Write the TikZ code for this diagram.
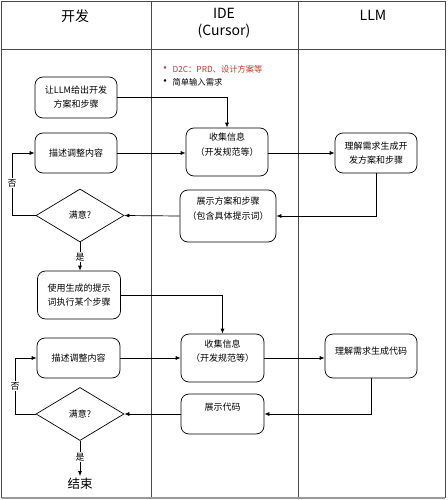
\documentclass[tikz,border=0pt]{standalone}
\usepackage{fontspec}
\setmainfont{Noto Sans CJK SC}
\usetikzlibrary{shapes.geometric,arrows.meta}
\definecolor{gridc}{HTML}{4A4A4A}
\definecolor{redtxt}{HTML}{C0392B}
\tikzset{
  box/.style={draw=black, line width=0.7pt, rounded corners=8pt, inner sep=0pt, align=center, font=\fontsize{9}{14}\selectfont},
  txt/.style={inner sep=0pt, align=center, font=\fontsize{9}{14.5}\selectfont},
  dia/.style={draw=black, line width=0.7pt, diamond, inner sep=0pt, minimum width=88pt, minimum height=53pt, font=\fontsize{9}{12}\selectfont},
  head/.style={inner sep=0pt, align=center, font=\fontsize{14}{16.5}\selectfont},
  conn/.style={line width=0.7pt, -{Latex[length=5pt,width=4pt]}},
  lab/.style={inner sep=1pt, fill=white, font=\fontsize{9}{10}\selectfont}
}
\begin{document}
\begin{tikzpicture}[x=1pt,y=-1pt]
\useasboundingbox (0,0) rectangle (447,500);
\fill[white] (0,0) rectangle (447,500);
% table
\draw[gridc, line width=0.8pt] (1.5,1.5) rectangle (445,497);
\draw[gray!80, line width=2pt] (1.5,497.5) -- (445,497.5);
\draw[gridc, line width=0.8pt] (1.5,49) -- (445,49);
\draw[gridc, line width=0.8pt] (151,1.5) -- (151,497);
\draw[gridc, line width=0.8pt] (298,1.5) -- (298,497);
% headers
\node[head] (h1) at (75,16) {开发};
\node[head] (h2) at (224,23) {IDE\\(Cursor)};
\node[head] (h3) at (373,15) {LLM};
% bullets
\node[inner sep=0pt, anchor=west, font=\fontsize{8.3}{10}\selectfont, text=redtxt] (b1) at (159,69) {{\large•}\,D2C：PRD、设计方案等};
\node[inner sep=0pt, anchor=west, font=\fontsize{8.3}{10}\selectfont] (b2) at (159,82) {{\large•}\,简单输入需求};
% round 1
\node[box, minimum width=82pt, minimum height=41pt] (n1) at (76,97.5) {让LLM给出开发\\方案和步骤};
\node[box, minimum width=82pt, minimum height=40pt] (d1) at (76,153) {描述调整内容};
\node[box, minimum width=82pt, minimum height=48pt] (c1) at (227,152) {};
\node[txt] (c1t) at (227,144.5) {收集信息\\（开发规范等）};
\node[box, minimum width=82pt, minimum height=40pt] (l1) at (376,153) {理解需求生成开\\发方案和步骤};
\node[box, minimum width=96pt, minimum height=52pt] (s1) at (228,216) {};
\node[txt] (s1t) at (228,208.5) {展示方案和步骤\\（包含具体提示词）};
\node[dia] (m1) at (80,215.5) {满意?};
% round 2
\node[box, minimum width=83pt, minimum height=48pt] (u) at (79,295) {使用生成的提示\\词执行某个步骤};
\node[box, minimum width=83pt, minimum height=40pt] (d2) at (78.5,358) {描述调整内容};
\node[box, minimum width=83pt, minimum height=48pt] (c2) at (222.5,358) {};
\node[txt] (c2t) at (222.5,351) {收集信息\\（开发规范等）};
\node[box, minimum width=92pt, minimum height=44pt] (l2) at (371,356) {};
\node[txt] (l2t) at (371,351) {理解需求生成代码};
\node[box, minimum width=83pt, minimum height=40pt] (sc) at (222.5,414) {};
\node[txt] (sct) at (222.5,407) {展示代码};
\node[dia] (m2) at (80,414) {满意?};
\node[inner sep=0pt, font=\fontsize{12.5}{14}\selectfont] (end) at (80,484) {结束};
% coordinates for loops
\coordinate (k1a) at (12,215.5);
\coordinate (k1b) at (12,153);
\coordinate (k2a) at (15,414);
\coordinate (k2b) at (15,358);
% connectors round 1
\draw[conn] (n1.east) -| (c1.north);
\draw[conn] (d1.east) -- (d1.east -| c1.west);
\draw[conn] (c1.east |- d1.east) -- (d1.east -| l1.west);
\draw[conn] (l1.south) |- (s1.east);
\draw[conn] (s1.west) -- (m1.east);
\draw[conn] (m1.west) -- (k1a) -- (k1b) -- (d1.west);
\node[lab] (no1) at (12,183) {否};
\draw[conn] (m1.south) -- (m1.south |- u.north);
\node[lab] (yes1) at (80,257) {是};
% connectors round 2
\draw[conn] (u.east) -| (c2.north);
\draw[conn] (d2.east) -- (d2.east -| c2.west);
\draw[conn] (c2.east) -- (c2.east -| l2.west);
\draw[conn] (l2.south) |- (sc.east);
\draw[conn] (sc.west) -- (m2.east);
\draw[conn] (m2.west) -- (k2a) -- (k2b) -- (d2.west);
\node[lab] (no2) at (15,386) {否};
\draw[conn, shorten >=2pt] (m2.south) -- (end.north);
\node[lab] (yes2) at (80,457) {是};
\end{tikzpicture}
\end{document}
